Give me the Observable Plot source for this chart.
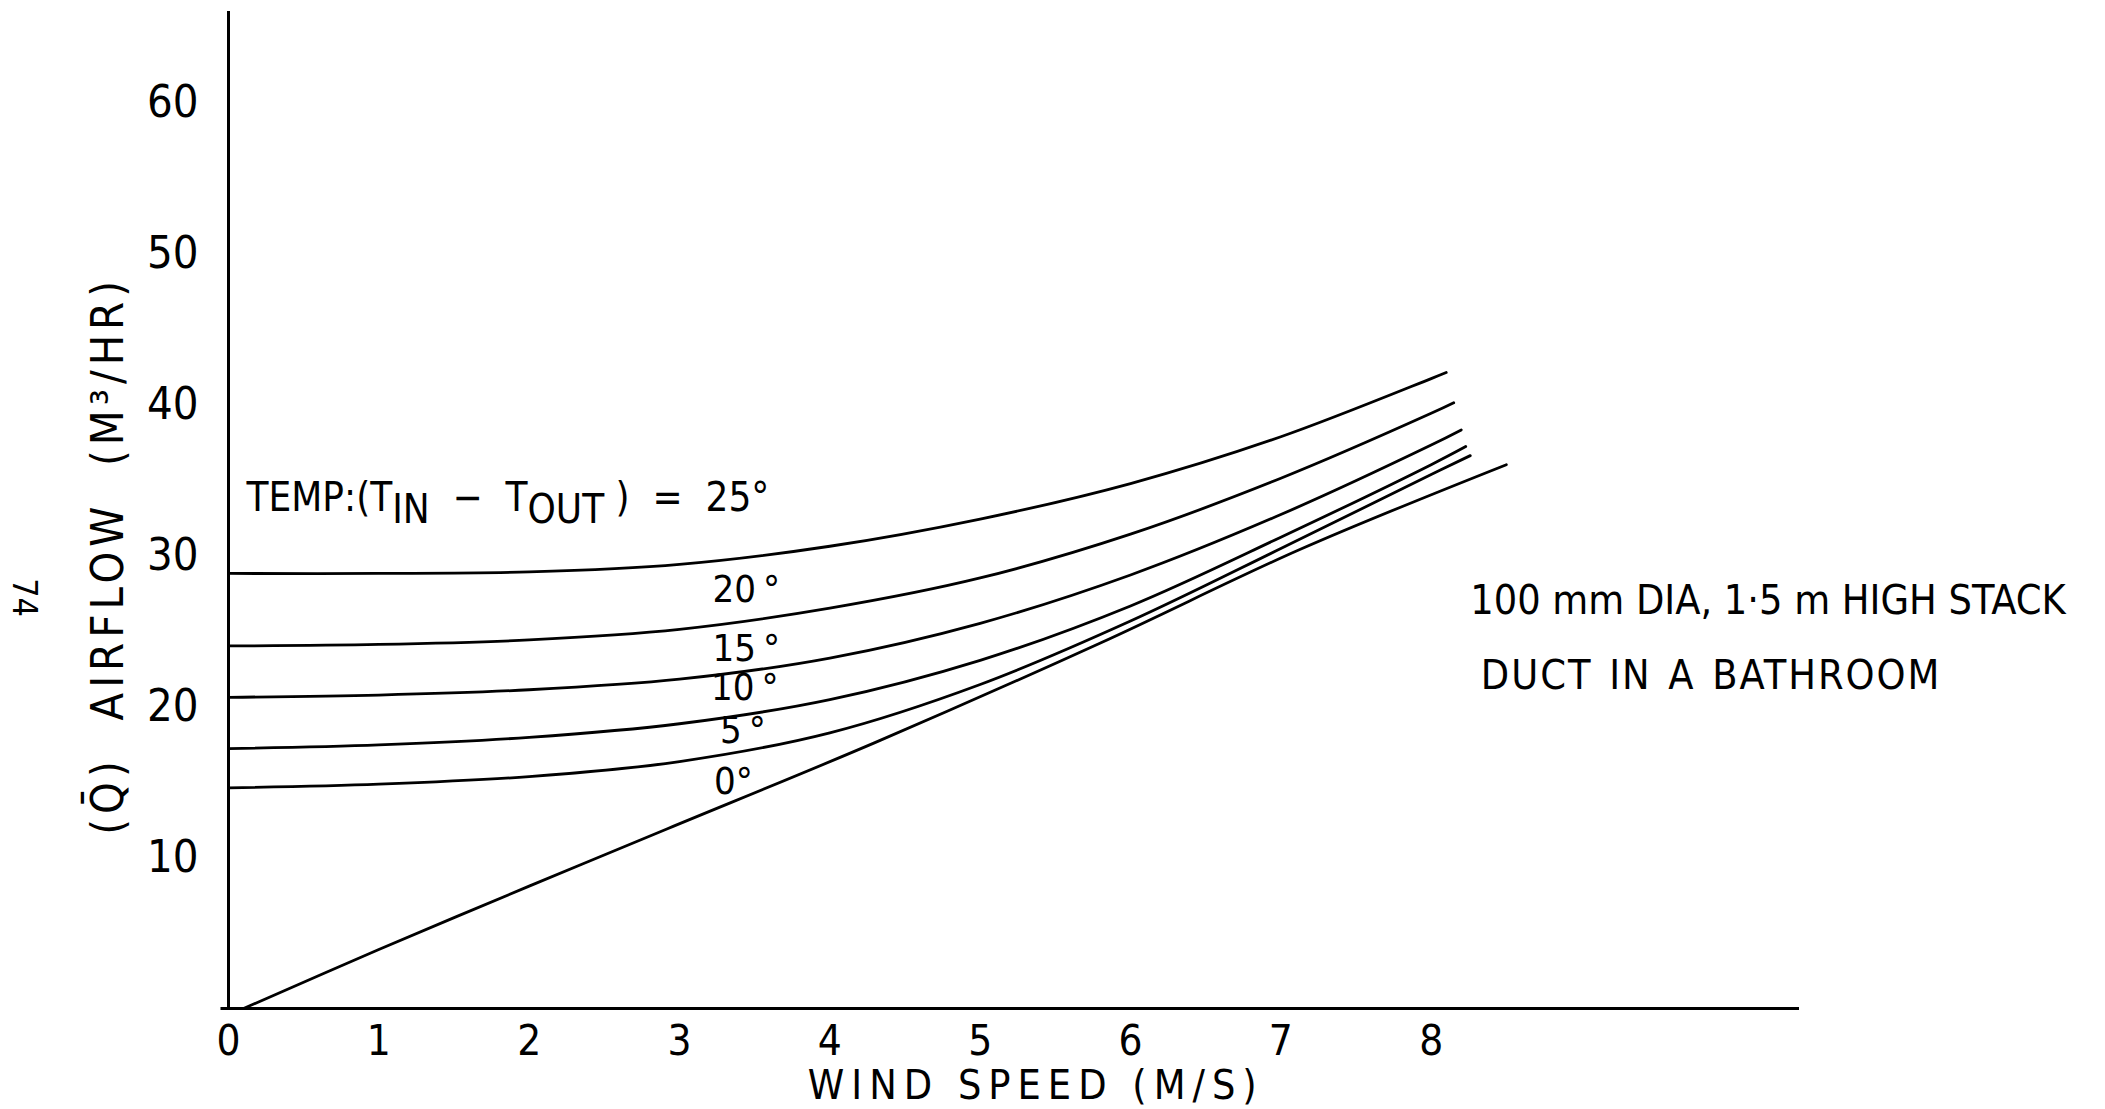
<!DOCTYPE html>
<html>
<head>
<meta charset="utf-8">
<script src="https://cdn.jsdelivr.net/npm/d3@7"></script>
<script src="https://cdn.jsdelivr.net/npm/@observablehq/plot@0.6"></script>
<style>
  html, body { margin: 0; padding: 0; background: #ffffff; }
  #chart { width: 2105px; height: 1109px; }
</style>
</head>
<body>
<div id="chart"></div>
<script>
// ---------------- DATA ----------------
// Temperature difference (T_in - T_out) of each curve
const seriesNames = ["25°", "20°", "15°", "10°", "5°", "0°"];

// Wind speed (m/s) and airflow (m³/hr) for each curve
const wind25 = [0, 1, 2, 3, 4, 5, 6, 7, 8, 8.10];
const flow25 = [28.8, 28.8, 28.9, 29.4, 30.6, 32.4, 34.75, 37.85, 41.7, 42.1];

const wind20 = [0, 1, 2, 3, 4, 5, 6, 7, 8, 8.15];
const flow20 = [24.0, 24.1, 24.4, 25.1, 26.5, 28.5, 31.4, 35.1, 39.4, 40.1];

const wind15 = [0, 1, 2, 3, 4, 5, 6, 7, 8, 8.20];
const flow15 = [20.6, 20.75, 21.1, 21.8, 23.2, 25.5, 28.7, 32.7, 37.3, 38.3];

const wind10 = [0, 1, 2, 3, 4, 5, 6, 7, 8, 8.23];
const flow10 = [17.2, 17.45, 17.95, 18.85, 20.45, 23.05, 26.65, 31.2, 36.0, 37.2];

const wind05 = [0, 1, 2, 3, 4, 5, 6, 7, 8, 8.26];
const flow05 = [14.6, 14.85, 15.35, 16.35, 18.25, 21.45, 25.65, 30.45, 35.35, 36.6];

const wind00 = [0.1, 1, 2, 2.92, 4.3, 5.8, 7.13, 8.5];
const flow00 = [0, 3.9, 8.1, 11.9, 17.6, 24.2, 30.4, 36.0];

// Axis ticks
const xTicks = [0, 1, 2, 3, 4, 5, 6, 7, 8];
const yTicks = [10, 20, 30, 40, 50, 60];

// Curve label texts
const curveLabelTexts = ["20\u2009°", "15\u2009°", "10\u2009°", "5\u2009°", "0°"];

// ---------------- BUILD TABLE ----------------
const curveWinds = [wind25, wind20, wind15, wind10, wind05, wind00];
const curveFlows = [flow25, flow20, flow15, flow10, flow05, flow00];
const rows = [];
seriesNames.forEach((name, i) => {
  curveWinds[i].forEach((w, j) => rows.push({series: name, wind: w, flow: curveFlows[i][j]}));
});

// ---------------- ANNOTATION PLACEMENT (data coordinates) ----------------
const labelX = [3.22, 3.22, 3.21, 3.27, 3.23];
const labelY = [27.7, 23.8, 21.2, 18.4, 15.0];
const curveLabels = curveLabelTexts.map((t, i) => ({t, x: labelX[i], y: labelY[i]}));

const FONT = '"DejaVu Sans Condensed", "Liberation Sans Narrow", "DejaVu Sans", sans-serif';

const plot = Plot.plot({
  width: 2105,
  height: 1109,
  marginLeft: 228,
  marginRight: 306,
  marginTop: 11,
  marginBottom: 101,
  style: {fontFamily: FONT, background: "#ffffff", color: "#000000", overflow: "visible"},
  x: {domain: [0, 10.45]},
  y: {domain: [0, 66]},
  marks: [
    Plot.axisX({ticks: xTicks, tickSize: 0, tickPadding: 17, fontSize: 42, label: null}),
    Plot.axisY({ticks: yTicks, tickSize: 0, tickPadding: 30, fontSize: 45, label: null}),
    Plot.ruleX([0], {y1: 0, y2: 66, stroke: "#000", strokeWidth: 3}),
    Plot.ruleY([0], {x1: -0.05, x2: 10.45, stroke: "#000", strokeWidth: 3}),
    Plot.line(rows, {x: "wind", y: "flow", z: "series", curve: "catmull-rom", stroke: "#000", strokeWidth: 2.8}),
    Plot.text(curveLabels, {x: "x", y: "y", text: "t", textAnchor: "start", lineAnchor: "middle", fontSize: 38, fill: "#000"}),
    Plot.text(["TEMP:(TIN − TOUT) = 25°"], {x: 0.12, y: 33.8, text: d => d, textAnchor: "start", lineAnchor: "middle", fontSize: 40, fill: "#000"}),
    Plot.text(["(Q̄)  AIRFLOW  (M³/HR)"], {x: -0.8, y: 30.0, text: d => d, rotate: -90, textAnchor: "middle", lineAnchor: "middle", fontSize: 45, fill: "#000"}),
    Plot.text(["WIND SPEED (M/S)"], {x: 5.37, y: -5.15, text: d => d, textAnchor: "middle", lineAnchor: "middle", fontSize: 41, fill: "#000"}),
    Plot.text(["100 mm DIA, 1·5 m HIGH STACK"], {x: 8.26, y: 27.0, text: d => d, textAnchor: "start", lineAnchor: "middle", fontSize: 41, fill: "#000"}),
    Plot.text(["DUCT IN A BATHROOM"], {x: 8.33, y: 22.0, text: d => d, textAnchor: "start", lineAnchor: "middle", fontSize: 41, fill: "#000"}),
    Plot.text(["74"], {x: -1.36, y: 27.2, text: d => d, rotate: 90, textAnchor: "middle", lineAnchor: "middle", fontSize: 34, fill: "#000"})
  ]
});

// Subscripts in the TEMP label
d3.select(plot).selectAll("text").filter(function() { return this.textContent === "TEMP:(TIN − TOUT) = 25°"; })
  .each(function() {
    const t = d3.select(this);
    t.text(null);
    t.append("tspan").text("TEMP:(T");
    t.append("tspan").attr("dy", "0.3em").text("IN");
    t.append("tspan").attr("dy", "-0.3em").text("  −  T");
    t.append("tspan").attr("dy", "0.3em").text("OUT");
    t.append("tspan").attr("dy", "-0.3em").text(" )  =  25°");
  });
d3.select(plot).selectAll("text").filter(function() { return this.textContent.indexOf("AIRFLOW") >= 0; })
  .style("letter-spacing", "5px");
d3.select(plot).selectAll("text").filter(function() { return this.textContent === "WIND SPEED (M/S)"; })
  .style("letter-spacing", "7px");
d3.select(plot).selectAll("text").filter(function() { return this.textContent === "DUCT IN A BATHROOM"; })
  .style("letter-spacing", "2px").style("word-spacing", "3px");

document.getElementById("chart").appendChild(plot);
</script>
</body>
</html>
